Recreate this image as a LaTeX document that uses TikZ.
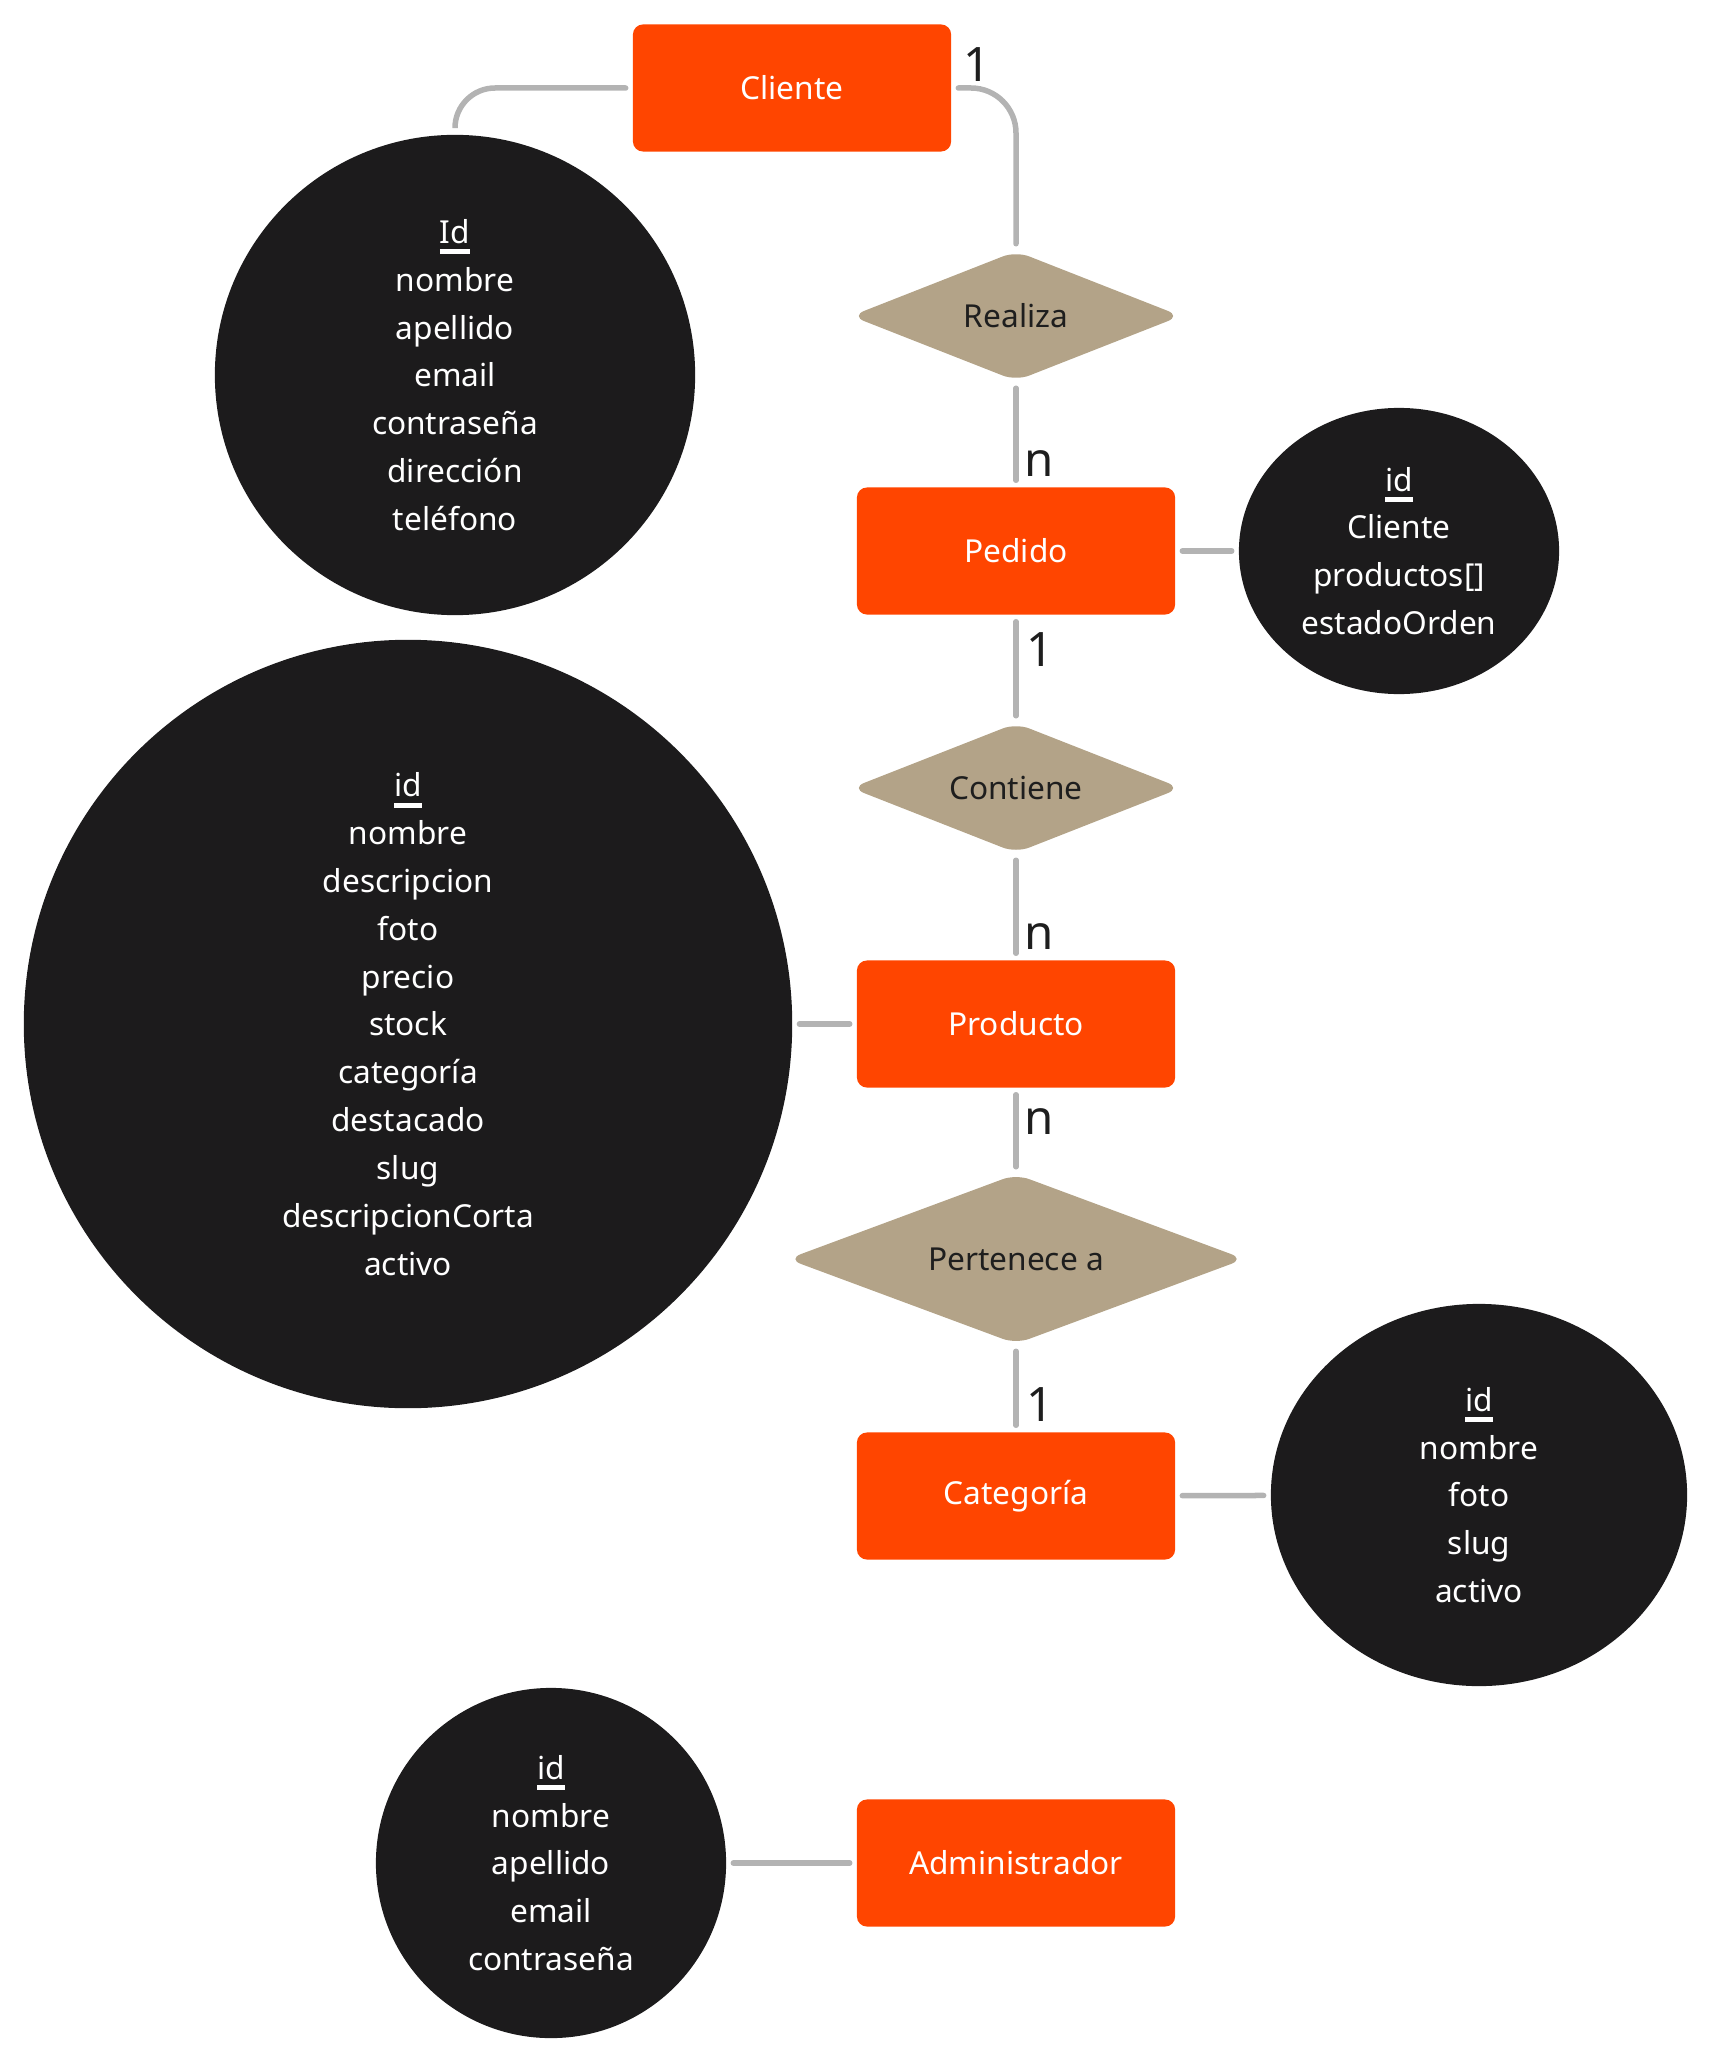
\documentclass[tikz,border=0pt]{standalone}
\usepackage{fontspec}
\setmainfont{Noto Sans}
\usetikzlibrary{shapes.geometric}

\definecolor{naranja}{RGB}{255,69,0}
\definecolor{arena}{RGB}{179,163,136}
\definecolor{carbon}{RGB}{28,27,28}
\definecolor{gris}{RGB}{179,179,179}
\definecolor{tinta}{RGB}{30,30,30}

%underlined key attribute
\newcommand{\clave}[1]{\setbox0\hbox{#1}\rlap{\rule[-0.35em]{\wd0}{0.16em}}\box0}

\tikzset{
  entbox/.style={rectangle, rounded corners=0.1cm, fill=naranja, text=white,
    minimum width=3.18cm, minimum height=1.27cm, inner sep=0pt,
    font=\fontsize{9pt}{13.6pt}\selectfont},
  relbox/.style={diamond, aspect=2.6, rounded corners=0.14cm, fill=arena, text=tinta,
    minimum width=3.3cm, minimum height=1.3cm, inner sep=0pt,
    font=\fontsize{9pt}{13.6pt}\selectfont},
  attrcirc/.style={ellipse, fill=carbon, text=white, align=center, inner sep=0pt,
    font=\fontsize{9pt}{13.6pt}\selectfont},
  conn/.style={draw=gris, line width=0.055cm, line cap=round,
    shorten <=0.065cm, shorten >=0.065cm},
  card/.style={inner sep=0pt, anchor=base west, text=tinta,
    font=\fontsize{13.5pt}{15pt}\selectfont}
}

\begin{document}
\begin{tikzpicture}[x=0.01cm, y=-0.01cm]

\useasboundingbox (0,0) rectangle (1712,2064);

%entities
\node[entbox] (cliente) at (792,88) {Cliente};
\node[entbox] (pedido) at (1016,551) {Pedido};
\node[entbox] (producto) at (1016,1024) {Producto};
\node[entbox] (categoria) at (1016,1496) {Categoría};
\node[entbox] (admin) at (1016,1863) {Administrador};

%relations
\node[relbox] (realiza) at (1016,316) {Realiza};
\node[relbox] (contiene) at (1016,788) {Contiene};
\node[relbox, minimum width=4.57cm, minimum height=1.7cm] (pertenece) at (1016,1259) {Pertenece a};

%attributes
\node[attrcirc, minimum width=4.8cm, minimum height=4.8cm] (atrcliente) at (455,375)
  {\clave{Id}\\nombre\\apellido\\email\\contraseña\\dirección\\teléfono};
\node[attrcirc, minimum width=3.2cm, minimum height=2.86cm] (atrpedido) at (1399,551)
  {\clave{id}\\Cliente\\productos[]\\estadoOrden};
\node[attrcirc, minimum width=7.68cm, minimum height=7.68cm] (atrproducto) at (408,1024)
  {\clave{id}\\nombre\\descripcion\\foto\\precio\\stock\\categoría\\destacado\\slug\\descripcionCorta\\activo};
\node[attrcirc, minimum width=4.16cm, minimum height=3.82cm] (atrcategoria) at (1479,1495)
  {\clave{id}\\nombre\\foto\\slug\\activo};
\node[attrcirc, minimum width=3.5cm, minimum height=3.5cm] (atradmin) at (551,1863)
  {\clave{id}\\nombre\\apellido\\email\\contraseña};

%connectors between entities and relations
\draw[conn, rounded corners=0.45cm] (cliente.east) -| (realiza.north);
\draw[conn] (realiza) -- (pedido);
\draw[conn] (pedido) -- (contiene);
\draw[conn] (contiene) -- (producto);
\draw[conn] (producto) -- (pertenece);
\draw[conn] (pertenece) -- (categoria);

%connectors to the attributes
\draw[conn, rounded corners=0.4cm] (cliente.west) -| (atrcliente.north);
\draw[conn] (pedido) -- (atrpedido);
\draw[conn] (producto) -- (atrproducto);
\draw[conn] (categoria) -- (atrcategoria);
\draw[conn] (admin) -- (atradmin);

%cardinalities
\node[card] (cardA) at (963,82) {1};
\node[card] (cardB) at (1024,476) {n};
\node[card] (cardC) at (1026,666) {1};
\node[card] (cardD) at (1024,949) {n};
\node[card] (cardE) at (1024,1134) {n};
\node[card] (cardF) at (1026,1421) {1};

\end{tikzpicture}
\end{document}
